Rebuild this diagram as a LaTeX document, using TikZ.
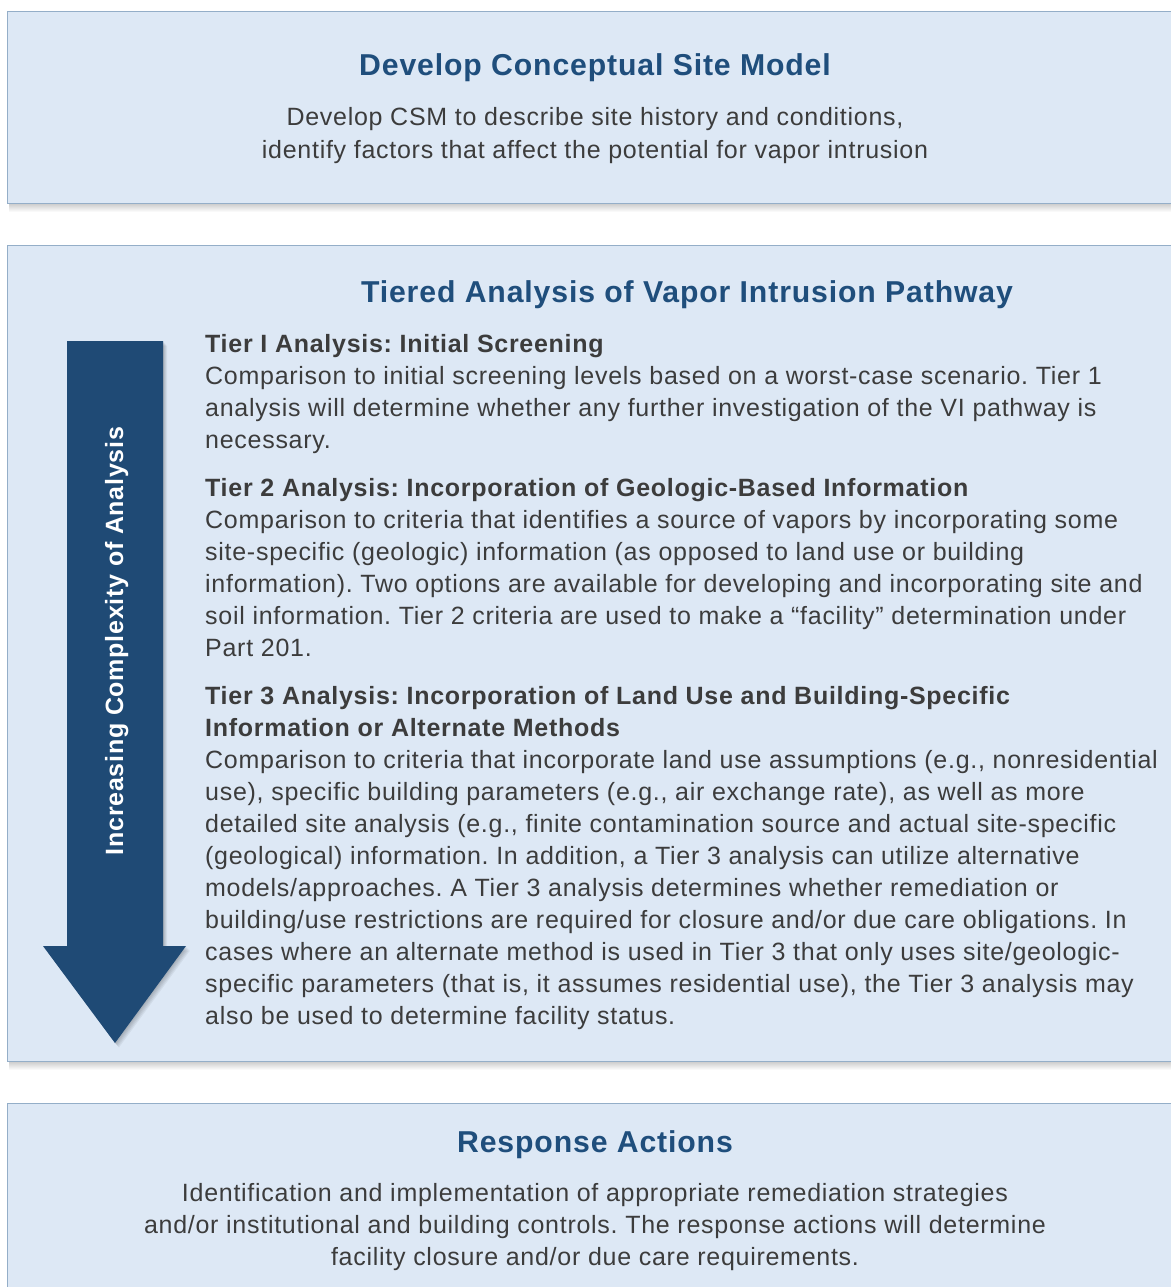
\documentclass[tikz,border=0pt]{standalone}
\usepackage{fontspec}
\setmainfont{Liberation Sans}[LetterSpace=2.9]
\frenchspacing
\definecolor{panelfill}{HTML}{DDE8F5}
\definecolor{panelline}{HTML}{94AEC8}
\definecolor{headblue}{HTML}{1F4E7C}
\definecolor{arrowblue}{HTML}{1F4A75}
\definecolor{bodygray}{HTML}{3C3C3C}
\begin{document}
\begin{tikzpicture}[x=1pt,y=-1pt,
  panel/.style={fill=panelfill, draw=panelline, line width=1.3pt, inner sep=0pt, anchor=north west},
  paneltitle/.style={font=\fontsize{30.2}{36}\selectfont\bfseries, text=headblue, anchor=base, inner sep=0pt},
  centerline/.style={font=\fontsize{25}{32}\selectfont, text=bodygray, anchor=base, inner sep=0pt},
  tierhead/.style={font=\fontsize{25}{32}\selectfont\bfseries, text=bodygray, anchor=base west, inner sep=0pt},
  tierline/.style={font=\fontsize{25}{32}\selectfont, text=bodygray, anchor=base west, inner sep=0pt},
  arrowlabel/.style={font=\fontsize{25}{30}\selectfont\bfseries, text=white, anchor=base, rotate=90, inner sep=0pt}
]
\useasboundingbox (0,0) rectangle (1170,1287);
\fill[white] (0,0) rectangle (1170,1287);

% soft shadows under the panels
\foreach \i in {1,...,9}{
  \fill[black, opacity=0.022] (9,203) rectangle (1183,203+\i);
  \fill[black, opacity=0.022] (9,1061) rectangle (1183,1061+\i);
}

% panels
\node[panel, minimum width=1176pt, minimum height=192pt] (csm) at (7,11) {};
\node[panel, minimum width=1176pt, minimum height=816pt] (tiers) at (7,245) {};
\node[panel, minimum width=1176pt, minimum height=200pt] (resp) at (7,1103) {};

% complexity arrow with its shadow
\foreach \i in {1,...,5}{
  \fill[black, opacity=0.05, shift={(\i*0.8,\i*0.9)}]
    (67,341) -- (163,341) -- (163,946) -- (186,946) -- (115,1043) -- (43,946) -- (67,946) -- cycle;
}
\fill[arrowblue] (67,341) -- (163,341) -- (163,946) -- (186,946) -- (115,1043) -- (43,946) -- (67,946) -- cycle;
\node[arrowlabel] (cplx) at (123,641) {Increasing Complexity of Analysis};

% first panel
\node[paneltitle] (csmtitle) at (595,76) {Develop Conceptual Site Model};
\node[centerline] (csm1) at (595,126) {Develop CSM to describe site history and conditions,};
\node[centerline] (csm2) at (595,158) {identify factors that affect the potential for vapor intrusion};

% second panel
\node[paneltitle] (tiertitle) at (687,302) {Tiered Analysis of Vapor Intrusion Pathway};

\node[tierhead] (t1h) at (205,352) {Tier I Analysis: Initial Screening};
\node[tierline] (t1a) at (205,384) {Comparison to initial screening levels based on a worst-case scenario. Tier 1};
\node[tierline] (t1b) at (205,416) {analysis will determine whether any further investigation of the VI pathway is};
\node[tierline] (t1c) at (205,448) {necessary.};

\node[tierhead] (t2h) at (205,496) {Tier 2 Analysis: Incorporation of Geologic-Based Information};
\node[tierline] (t2a) at (205,528) {Comparison to criteria that identifies a source of vapors by incorporating some};
\node[tierline] (t2b) at (205,560) {site-specific (geologic) information (as opposed to land use or building};
\node[tierline] (t2c) at (205,592) {information). Two options are available for developing and incorporating site and};
\node[tierline] (t2d) at (205,624) {soil information. Tier 2 criteria are used to make a “facility” determination under};
\node[tierline] (t2e) at (205,656) {Part 201.};

\node[tierhead] (t3h) at (205,704) {Tier 3 Analysis: Incorporation of Land Use and Building-Specific};
\node[tierhead] (t3i) at (205,736) {Information or Alternate Methods};
\node[tierline] (t3a) at (205,768) {Comparison to criteria that incorporate land use assumptions (e.g., nonresidential};
\node[tierline] (t3b) at (205,800) {use), specific building parameters (e.g., air exchange rate), as well as more};
\node[tierline] (t3c) at (205,832) {detailed site analysis (e.g., finite contamination source and actual site-specific};
\node[tierline] (t3d) at (205,864) {(geological) information. In addition, a Tier 3 analysis can utilize alternative};
\node[tierline] (t3e) at (205,896) {models/approaches. A Tier 3 analysis determines whether remediation or};
\node[tierline] (t3f) at (205,928) {building/use restrictions are required for closure and/or due care obligations. In};
\node[tierline] (t3g) at (205,960) {cases where an alternate method is used in Tier 3 that only uses site/geologic-};
\node[tierline] (t3h2) at (205,992) {specific parameters (that is, it assumes residential use), the Tier 3 analysis may};
\node[tierline] (t3j) at (205,1024) {also be used to determine facility status.};

% third panel
\node[paneltitle] (resptitle) at (595,1152) {Response Actions};
\node[centerline] (resp1) at (595,1201) {Identification and implementation of appropriate remediation strategies};
\node[centerline] (resp2) at (595,1233) {and/or institutional and building controls. The response actions will determine};
\node[centerline] (resp3) at (595,1265) {facility closure and/or due care requirements.};
\end{tikzpicture}
\end{document}
